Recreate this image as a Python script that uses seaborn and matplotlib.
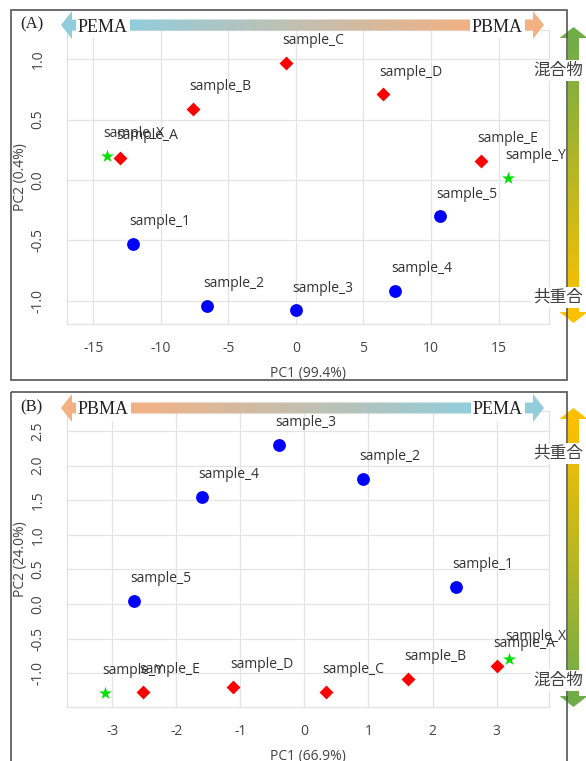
import numpy as np
import pandas as pd
import matplotlib
matplotlib.use("Agg")
import matplotlib.pyplot as plt
import seaborn as sns
from matplotlib.ticker import MultipleLocator, FormatStrFormatter
from matplotlib.patches import Polygon, Rectangle
from matplotlib.colors import LinearSegmentedColormap

# ---------------- data ----------------
names = ["sample_1", "sample_2", "sample_3", "sample_4", "sample_5",
         "sample_A", "sample_B", "sample_C", "sample_D", "sample_E",
         "sample_X", "sample_Y"]
groups = ["1-5"] * 5 + ["A-E"] * 5 + ["X-Y"] * 2

A_pc1 = [-12.1, -6.6, 0.0, 7.33, 10.67, -13.04, -7.65, -0.74, 6.42, 13.68, -14.02, 15.73]
A_pc2 = [-0.53, -1.04, -1.08, -0.92, -0.30, 0.185, 0.59, 0.97, 0.71, 0.16, 0.20, 0.02]
B_pc1 = [2.36, 0.91, -0.40, -1.60, -2.67, 3.00, 1.61, 0.33, -1.11, -2.53, 3.19, -3.11]
B_pc2 = [0.25, 1.81, 2.30, 1.55, 0.04, -0.89, -1.08, -1.27, -1.20, -1.27, -0.79, -1.29]

A_xlabel, A_ylabel = "PC1 (99.4%)", "PC2 (0.4%)"
B_xlabel, B_ylabel = "PC1 (66.9%)", "PC2 (24.0%)"
A_xticks = [-15, -10, -5, 0, 5, 10, 15]
A_yticks = [-1.0, -0.5, 0.0, 0.5, 1.0]
B_xticks = [-3, -2, -1, 0, 1, 2, 3]
B_yticks = [-1.0, -0.5, 0.0, 0.5, 1.0, 1.5, 2.0, 2.5]

# ---------------- style ----------------
sns.set_theme(style="white")
plt.rcParams["font.family"] = ["Open Sans", "DejaVu Sans"]
plt.rcParams["axes.unicode_minus"] = False

W, H = 586, 761
fig = plt.figure(figsize=(W / 100, H / 100), dpi=100)

def frac(x0, y0, x1, y1):
    return [x0 / W, 1 - y1 / H, (x1 - x0) / W, (y1 - y0) / H]

axA = fig.add_axes(frac(67, 30, 549, 324))
axB = fig.add_axes(frac(67, 411, 549, 707))

marker_style = {
    "1-5": dict(marker="o", color="#0000ff", s=85),
    "A-E": dict(marker="D", color="#ff0000", s=50),
    "X-Y": dict(marker="*", color="#00e000", s=95),
}

def draw_panel(ax, pc1, pc2, xlim, ylim, xticks, yticks, xminor, yminor, xlabel, ylabel, xfmt):
    df = pd.DataFrame({"name": names, "group": groups, "pc1": pc1, "pc2": pc2})
    for g, st in marker_style.items():
        sub = df[df["group"] == g]
        sns.scatterplot(data=sub, x="pc1", y="pc2", ax=ax, marker=st["marker"],
                        color=st["color"], s=st["s"], linewidth=0, legend=False, zorder=3)
    for _, r in df.iterrows():
        ax.annotate(r["name"], (r["pc1"], r["pc2"]), xytext=(-2.5, 16),
                    textcoords="offset points", ha="left", va="center",
                    fontsize=10, color="#333333", zorder=4)
    ax.set_xlim(*xlim)
    ax.set_ylim(*ylim)
    ax.set_xticks(xticks)
    ax.set_yticks(yticks)
    ax.xaxis.set_minor_locator(MultipleLocator(xminor))
    ax.yaxis.set_minor_locator(MultipleLocator(yminor))
    ax.xaxis.set_major_formatter(FormatStrFormatter(xfmt))
    ax.yaxis.set_major_formatter(FormatStrFormatter("%.1f"))
    ax.grid(True, which="major", color="#e4e4e4", linewidth=0.9)
    ax.set_axisbelow(True)
    for sp in ax.spines.values():
        sp.set_color("#e2e2e2")
        sp.set_linewidth(0.9)
    ax.tick_params(which="both", direction="out", color="#c8c8c8", width=0.8,
                   labelcolor="#444444", labelsize=10)
    ax.tick_params(which="major", length=6.5)
    ax.tick_params(which="minor", length=4.5)
    ax.tick_params(axis="y", which="major", labelrotation=90, pad=9)
    ax.tick_params(axis="x", which="major", pad=6)
    for lab in ax.get_yticklabels():
        lab.set_va("center")
    ax.set_xlabel(xlabel, fontsize=10, color="#444444", labelpad=7)
    ax.set_ylabel(ylabel, fontsize=10, color="#444444", labelpad=2)

draw_panel(axA, A_pc1, A_pc2, (-16.96, 18.74), (-1.193, 1.243), A_xticks, A_yticks,
           1, 0.1, A_xlabel, A_ylabel, "%d")
draw_panel(axB, B_pc1, B_pc2, (-3.71, 3.82), (-1.49, 2.79), B_xticks, B_yticks,
           0.2, 0.1, B_xlabel, B_ylabel, "%d")

# ---------------- decorations overlay ----------------
ov = fig.add_axes([0, 0, 1, 1], zorder=10)
ov.patch.set_alpha(0)
ov.axis("off")

BLUE, ORANGE = "#92CDDC", "#F4B183"
GREEN, GOLD = "#70AD47", "#FFC000"

def h_arrow(x0, x1, yc, c_left, c_right, g0, g1, body=11, headw=28, headl=11):
    pts = [(x0, yc), (x0 + headl, yc - headw / 2), (x0 + headl, yc - body / 2),
           (x1 - headl, yc - body / 2), (x1 - headl, yc - headw / 2), (x1, yc),
           (x1 - headl, yc + headw / 2), (x1 - headl, yc + body / 2),
           (x0 + headl, yc + body / 2), (x0 + headl, yc + headw / 2)]
    patch = Polygon(pts, closed=True, facecolor="none", edgecolor="none")
    ov.add_patch(patch)
    cmap = LinearSegmentedColormap.from_list("g", [c_left, c_right])
    xs = np.linspace(x0, x1, 800)
    vals = np.clip((xs - g0) / (g1 - g0), 0, 1)
    im = ov.imshow(vals[None, :], cmap=cmap, vmin=0, vmax=1, aspect="auto",
                   extent=(x0, x1, yc + headw / 2, yc - headw / 2), interpolation="bilinear")
    im.set_clip_path(patch)

def v_arrow(xc, y0, y1, c_top, c_bot, g0, g1, body=11, headw=28, headl=11):
    pts = [(xc, y0), (xc + headw / 2, y0 + headl), (xc + body / 2, y0 + headl),
           (xc + body / 2, y1 - headl), (xc + headw / 2, y1 - headl), (xc, y1),
           (xc - headw / 2, y1 - headl), (xc - body / 2, y1 - headl),
           (xc - body / 2, y0 + headl), (xc - headw / 2, y0 + headl)]
    patch = Polygon(pts, closed=True, facecolor="none", edgecolor="none")
    ov.add_patch(patch)
    cmap = LinearSegmentedColormap.from_list("g", [c_top, c_bot])
    ys = np.linspace(y0, y1, 800)
    vals = np.clip((ys - g0) / (g1 - g0), 0, 1)
    im = ov.imshow(vals[:, None], cmap=cmap, vmin=0, vmax=1, aspect="auto", origin="upper",
                   extent=(xc - headw / 2, xc + headw / 2, y1, y0), interpolation="bilinear")
    im.set_clip_path(patch)

# panel frames
ov.add_patch(Rectangle((11, 10), 556, 370, fill=False, edgecolor="#555555", linewidth=1.2))
ov.add_patch(Rectangle((11, 392), 556, 420, fill=False, edgecolor="#555555", linewidth=1.2))

# top arrows
h_arrow(61, 544, 25, BLUE, ORANGE, 128, 475)
h_arrow(61, 544, 408, ORANGE, BLUE, 128, 475)
# right arrows
v_arrow(573.5, 27, 323, GREEN, GOLD, 38, 312)
v_arrow(573.5, 408, 707, GOLD, GREEN, 419, 696)

serif = ["Liberation Serif", "DejaVu Serif"]
cjk = ["Noto Sans CJK JP", "DejaVu Sans"]
wb = dict(boxstyle="square,pad=0.12", facecolor="white", edgecolor="none")

ov.text(20, 24, "(A)", fontsize=12, family=serif, color="#222222", ha="left", va="center")
ov.text(20, 407, "(B)", fontsize=12, family=serif, color="#222222", ha="left", va="center")
ov.text(78, 27, "PEMA", fontsize=13, family=serif, color="#222222", ha="left", va="center", bbox=wb)
ov.text(523, 27, "PBMA", fontsize=13, family=serif, color="#222222", ha="right", va="center", bbox=wb)
ov.text(78, 410, "PBMA", fontsize=13, family=serif, color="#222222", ha="left", va="center", bbox=wb)
ov.text(523, 410, "PEMA", fontsize=13, family=serif, color="#222222", ha="right", va="center", bbox=wb)

ov.text(558, 70, "混合物", fontsize=12, family=cjk, color="#404040", ha="center", va="center", bbox=wb)
ov.text(558, 297, "共重合", fontsize=12, family=cjk, color="#404040", ha="center", va="center", bbox=wb)
ov.text(558, 453, "共重合", fontsize=12, family=cjk, color="#404040", ha="center", va="center", bbox=wb)
ov.text(558, 680, "混合物", fontsize=12, family=cjk, color="#404040", ha="center", va="center", bbox=wb)

ov.set_xlim(0, W)
ov.set_ylim(H, 0)

fig.savefig("out.png", dpi=100)
